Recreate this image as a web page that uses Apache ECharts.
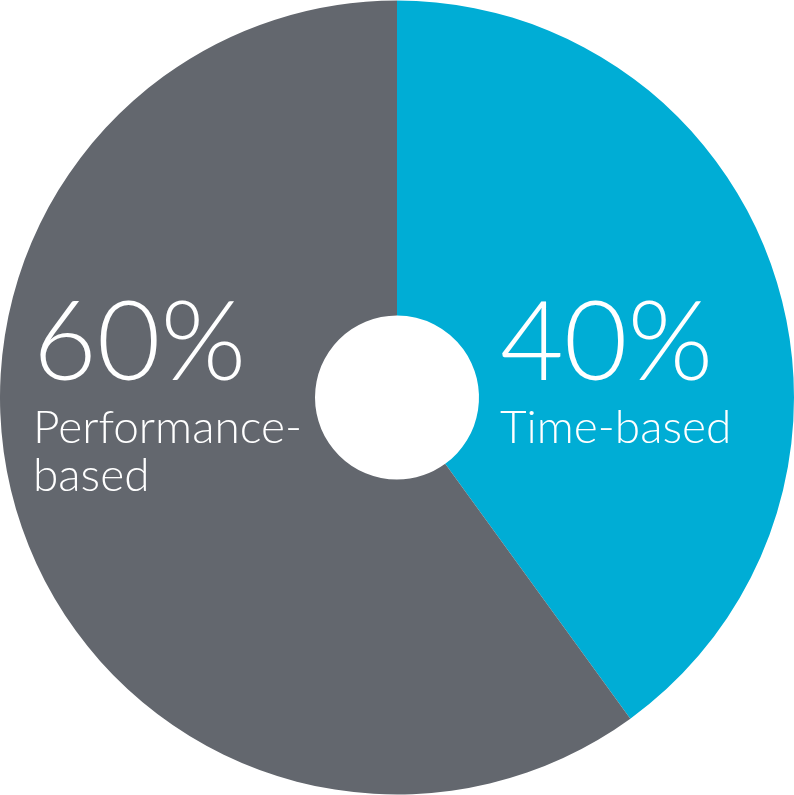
<!DOCTYPE html>
<html>
<head>
<meta charset="utf-8">
<script src="https://cdn.jsdelivr.net/npm/echarts@6/dist/echarts.min.js"></script>
<style>html,body{margin:0;padding:0;background:#fff}#c{width:794px;height:795px}</style>
</head>
<body>
<div id="c"></div>
<script>
var categories = ['Time-based', 'Performance-based'];
var values = [40, 60];
var labelLines = [['Time-based'], ['Performance-', 'based']];
var colors = ['#00ADD5', '#63676E'];

var chart = echarts.init(document.getElementById('c'), null, {renderer: 'canvas'});
var font = 'Lato, "Open Sans", sans-serif';
function pct(i) { return values[i] + '%'; }
chart.setOption({
  animation: false,
  series: [{
    type: 'pie',
    z: 1,
    center: [397, 397.5],
    radius: [82, 397],
    startAngle: 90,
    clockwise: true,
    label: {show: false},
    labelLine: {show: false},
    emphasis: {disabled: true},
    data: categories.map(function (c, i) {
      return {name: c, value: values[i], itemStyle: {color: colors[i]}};
    })
  }],
  graphic: {
    elements: [
      {type: 'text', left: 500, top: 290, z: 100, silent: true,
       style: {text: pct(0), fill: '#fff', font: '300 110px ' + font}},
      {type: 'text', left: 500, top: 404, z: 100, silent: true,
       style: {text: labelLines[0].join('\n'), fill: '#fff', font: '300 46px ' + font, lineHeight: 48}},
      {type: 'text', left: 33, top: 290, z: 100, silent: true,
       style: {text: pct(1), fill: '#fff', font: '300 110px ' + font}},
      {type: 'text', left: 33, top: 404, z: 100, silent: true,
       style: {text: labelLines[1].join('\n'), fill: '#fff', font: '300 46px ' + font, lineHeight: 48}}
    ]
  }
});
</script>
</body>
</html>
